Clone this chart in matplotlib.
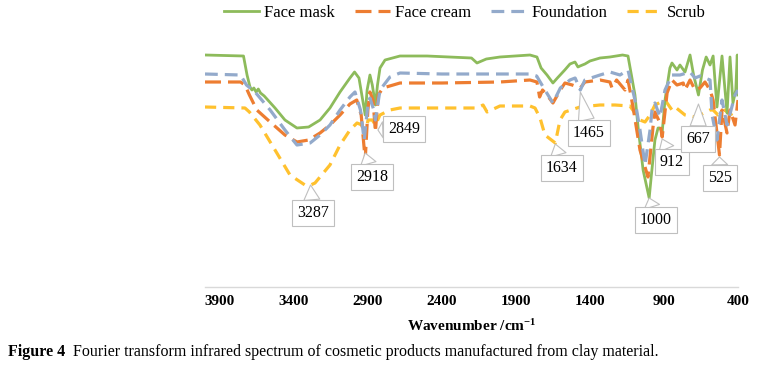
import matplotlib
matplotlib.use("Agg")
import matplotlib.pyplot as plt

plt.rcParams["mathtext.fontset"] = "custom"
plt.rcParams["mathtext.rm"] = "Liberation Serif"
plt.rcParams["mathtext.bf"] = "Liberation Serif:bold"
plt.rcParams["mathtext.it"] = "Liberation Serif:italic"

# ---- data (wavenumber cm-1, transmittance a.u.) ----
mask_wn = [4000, 3740, 3716, 3696, 3683, 3670, 3655, 3640, 3625, 3600, 3527, 3460, 3379, 3300, 3223,
           3156, 3088, 3021, 2990, 2960, 2935, 2918, 2905, 2886, 2870, 2849, 2835, 2818, 2784, 2683,
           2500, 2200, 2163, 2100, 2008, 1805, 1758, 1730, 1690, 1650, 1620, 1570, 1535, 1501, 1481,
           1467, 1434, 1400, 1332, 1265, 1180, 1143, 1120, 1096, 1075, 1041, 1000, 985, 961, 940,
           927, 912, 893, 860, 846, 812, 792, 758, 724, 700, 667, 640, 615, 589, 568, 542, 508,
           474, 454, 434, 415, 405, 400]
mask_t = [232, 231, 212, 200, 197, 199, 195, 198, 194, 191, 179, 167, 159, 160, 167,
          179, 195, 209, 215, 209, 187, 172, 197, 212, 202, 182, 202, 219, 227, 231,
          231, 229, 224, 228, 230, 232, 230, 219, 212, 204, 209, 217, 223, 225, 220,
          221, 223, 226, 229, 230, 232, 231, 212, 192, 160, 117, 89, 112, 147, 159,
          159, 155, 187, 219, 224, 217, 222, 215, 232, 212, 192, 217, 230, 222, 231, 180, 231,
          174, 230, 184, 197, 232, 192]

cream_wn = [4000, 3760, 3730, 3700, 3650, 3560, 3460, 3379, 3300, 3223, 3156, 3088, 3021, 2975, 2945,
            2918, 2900, 2886, 2865, 2849, 2830, 2798, 2683, 2400, 2008, 1805, 1758, 1740, 1720, 1690,
            1650, 1600, 1569, 1520, 1465, 1434, 1332, 1265, 1251, 1220, 1163, 1143, 1109, 1062, 1008,
            974, 961, 927, 912, 879, 846, 812, 770, 758, 724, 690, 657, 623, 589, 568, 525, 508,
            474, 454, 420, 400]
cream_t = [205, 205, 202, 192, 177, 165, 152, 145, 147, 154, 162, 172, 183, 187, 172,
           127, 177, 195, 187, 155, 192, 199, 204, 204, 205, 207, 205, 190, 197, 192,
           184, 197, 204, 202, 199, 205, 207, 205, 199, 207, 197, 207, 180, 137, 110,
           160, 175, 164, 150, 194, 207, 202, 204, 197, 207, 197, 199, 205, 197, 187, 132, 177,
           154, 177, 162, 187]

found_wn = [4000, 3760, 3720, 3662, 3560, 3460, 3379, 3290, 3223, 3156, 3088, 3021, 2987, 2950, 2925,
            2900, 2886, 2860, 2849, 2818, 2751, 2683, 2400, 2008, 1805, 1760, 1704, 1650, 1600, 1535,
            1500, 1465, 1434, 1332, 1265, 1197, 1143, 1096, 1062, 1028, 994, 981, 961, 927, 893,
            846, 792, 724, 690, 657, 623, 589, 575, 542, 508, 474, 420, 400]
found_t = [213, 212, 202, 195, 177, 157, 142, 144, 152, 162, 177, 190, 195, 177, 147,
           182, 189, 177, 167, 197, 210, 214, 213, 213, 213, 211, 197, 184, 199, 207,
           209, 197, 207, 212, 215, 212, 217, 187, 157, 122, 157, 177, 184, 170, 197,
           212, 212, 215, 209, 211, 209, 207, 172, 147, 187, 162, 192, 197]

scrub_wn = [4000, 3730, 3700, 3629, 3527, 3426, 3325, 3287, 3257, 3156, 3088, 3021, 2973, 2940, 2918,
            2899, 2870, 2849, 2818, 2751, 2683, 2548, 2163, 2122, 2095, 2008, 1805, 1771, 1737, 1704,
            1634, 1602, 1569, 1467, 1332, 1231, 1130, 1062, 1028, 994, 961, 893, 846, 825, 758,
            690, 657, 589, 568, 535, 488, 454, 400]
scrub_t = [180, 179, 175, 162, 137, 112, 102, 102, 104, 122, 142, 157, 164, 162, 150,
           167, 167, 162, 172, 177, 179, 179, 179, 182, 175, 181, 181, 179, 169, 152,
           144, 167, 175, 180, 182, 182, 181, 167, 165, 172, 182, 187, 177, 180, 172,
           170, 172, 177, 177, 172, 177, 172, 177]

series_names = ["Face mask", "Face cream", "Foundation", "Scrub"]

ticks = [3900, 3400, 2900, 2400, 1900, 1400, 900, 400]

peak_labels = ["3287", "2918", "2849", "1634", "1465", "1000", "912", "667", "525"]
peak_points = [(3287, 102), (2918, 134), (2832, 157), (1634, 143), (1465, 195),
               (1000, 89), (912, 148), (667, 183), (525, 130)]
label_pos = [(3271, 74), (2872, 110), (2656, 158), (1589, 119), (1406, 154),
             (954, 67), (846, 125), (670, 148), (522, 109)]

serif = ["Liberation Serif", "DejaVu Serif"]

fig = plt.figure(figsize=(7.57, 3.69), dpi=100)
ax = fig.add_axes([205 / 757, 1 - 287 / 369, 533 / 757, 257 / 369])

lw = 2.0
ax.plot(mask_wn, mask_t, color="#8DBB5B", lw=lw, label=series_names[0], zorder=3)
ax.plot(cream_wn, cream_t, color="#ED7D31", lw=lw + 0.3, dashes=(5, 2.2), label=series_names[1], zorder=4)
ax.plot(found_wn, found_t, color="#93AACB", lw=lw + 0.3, dashes=(4, 2.2), label=series_names[2], zorder=5)
ax.plot(scrub_wn, scrub_t, color="#FFC12E", lw=lw + 0.3, dashes=(3.5, 2.2), label=series_names[3], zorder=2)

ax.set_xlim(4000, 400)
ax.set_ylim(0, 257)
ax.set_xticks(ticks)
ax.set_xticklabels([str(t) for t in ticks], fontfamily=serif, fontweight="bold", fontsize=11)
ax.set_yticks([])
ax.tick_params(axis="x", length=0, pad=6)
for s in ["top", "right", "left"]:
    ax.spines[s].set_visible(False)
ax.spines["bottom"].set_color("#D9D9D9")
ax.spines["bottom"].set_linewidth(1.0)
ax.set_xlabel("Wavenumber /cm$^{\\mathbf{-1}}$", fontfamily=serif, fontweight="bold", fontsize=11, labelpad=7)

for lab, pt, pos in zip(peak_labels, peak_points, label_pos):
    ax.annotate(lab, xy=pt, xytext=pos, ha="center", va="center",
                fontfamily=serif, fontsize=11.5, zorder=10,
                bbox=dict(boxstyle="square,pad=0.3", fc="white", ec="#BFBFBF", lw=0.8),
                arrowprops=dict(arrowstyle="wedge,tail_width=1.0,shrink_factor=0.5",
                                fc="white", ec="#BFBFBF", lw=0.8, shrinkA=0, shrinkB=0))

leg = fig.legend(loc="center", bbox_to_anchor=(465 / 757, 1 - 13 / 369), ncol=4, frameon=False,
                 prop={"family": serif, "size": 12}, handlelength=2.1, columnspacing=1.2,
                 handletextpad=0.3)

cap_bold = fig.text(8 / 757, 1 - 352 / 369, "Figure 4", fontfamily=serif, fontweight="semibold",
                    fontsize=11.5, ha="left", va="center")
fig.canvas.draw()
bb = cap_bold.get_window_extent(renderer=fig.canvas.get_renderer())
fig.text((bb.x1 + 8) / 757, 1 - 352 / 369,
         "Fourier transform infrared spectrum of cosmetic products manufactured from clay material.",
         fontfamily=serif, fontsize=11.5, ha="left", va="center")

fig.savefig("out.png", dpi=100)
